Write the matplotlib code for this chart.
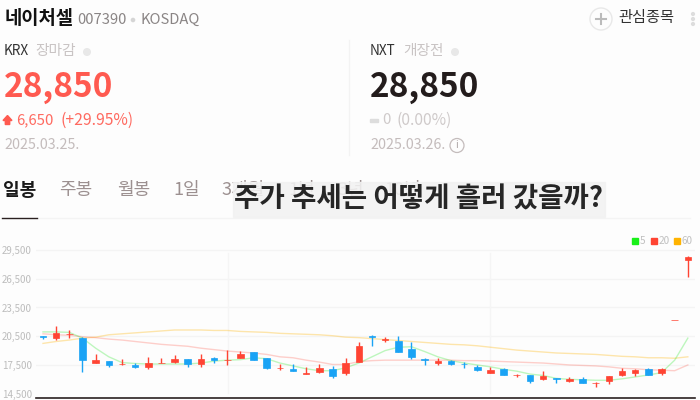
import matplotlib
matplotlib.use("Agg")
import matplotlib.pyplot as plt
from matplotlib.patches import Circle, Rectangle, Polygon

plt.rcParams['font.family'] = ['Noto Sans CJK KR', 'DejaVu Sans']

# --- data ---
opens = [20500, 20350, 20700, 20300, 17750, 17900, 17550, 17450, 17300, 17700,
         17800, 18150, 17550, 18250, 18000, 18250, 18850, 18250, 17150, 17050,
         16600, 16750, 17100, 16650, 17800, 20500, 20150, 20000, 19150, 18100,
         17700, 17900, 17600, 17300, 16650, 17100, 16450, 16450, 16000, 16150,
         15850, 16050, 15600, 15850, 16500, 16700, 17050, 16650, 22150, 28450]
highs = [20500, 21550, 21100, 20450, 18650, 17900, 18100, 17750, 18350, 18250,
         18550, 18150, 18650, 18350, 19050, 18950, 18850, 18250, 17600, 17600,
         17250, 17600, 17400, 18250, 19850, 20650, 20450, 20500, 19850, 18200,
         18250, 18000, 17800, 17500, 17300, 17200, 16550, 16450, 16850, 16150,
         16250, 16250, 15700, 16350, 17200, 17100, 17200, 17200, 22200, 28850]
lows = [20200, 20100, 20350, 16750, 17700, 17250, 17450, 17150, 17100, 17700,
        17700, 17250, 17300, 17750, 17500, 18200, 18000, 17100, 17000, 16850,
        16600, 16650, 16100, 16500, 17800, 19500, 19900, 18800, 18150, 17500,
        17500, 17500, 17200, 16850, 16650, 16400, 16200, 15650, 15950, 15600,
        15750, 15600, 15200, 15550, 16350, 16350, 16500, 16450, 22150, 26650]
closes = [20450, 20850, 20750, 18000, 18000, 17450, 17600, 17250, 17700, 17750,
          18150, 17550, 18100, 18000, 18050, 18650, 18000, 17200, 17200, 16850,
          16650, 17200, 16350, 17750, 19500, 20450, 20200, 18800, 18350, 18050,
          17900, 17600, 17550, 16950, 16950, 16400, 16500, 15850, 16300, 16050,
          16050, 15600, 15650, 16300, 16850, 17000, 16500, 17050, 22200, 28800]
ma5 = [20950, 20950, 20900, 20300, 19250, 18350, 17750, 17650, 17600, 17600,
       17600, 17600, 17700, 17900, 18000, 18050, 18250, 18150, 17700, 17400,
       17100, 16900, 16900, 17200, 17700, 18350, 19000, 19350, 19400, 18900,
       18350, 17950, 17700, 17500, 17300, 17050, 16850, 16550, 16400, 16100,
       16000, 15950, 15900, 15900, 16050, 16250, 16450, 16700, 18000, 20300]
ma20 = [20750, 20650, 20600, 20450, 20350, 20200, 20100, 19950, 19800, 19650,
        19550, 19450, 19250, 19100, 18950, 18850, 18750, 18600, 18350, 18250,
        18000, 17800, 17550, 17550, 17850, 17950, 18000, 18000, 18000, 18000,
        18000, 18000, 17950, 17950, 17900, 17850, 17800, 17750, 17700, 17600,
        17500, 17450, 17400, 17300, 17150, 17100, 17000, 16950, 16900, 17500]
ma60 = [19750, 19950, 20100, 20300, 20400, 20650, 20750, 20850, 20950, 21050,
        21150, 21150, 21150, 21100, 21100, 21000, 20950, 20900, 20800, 20750,
        20700, 20650, 20550, 20400, 20350, 20250, 20150, 20050, 19950, 19850,
        19750, 19650, 19600, 19500, 19350, 19200, 19050, 18950, 18850, 18750,
        18700, 18650, 18600, 18500, 18400, 18350, 18250, 18250, 18200, 18350]
y_ticks = [14500, 17500, 20500, 23500, 26500, 29500]
y_labels = ["14,500", "17,500", "20,500", "23,500", "26,500", "29,500"]
tabs = ["주봉", "월봉", "1일", "3개월", "1년", "3년", "10년"]
tab_x = [59, 117, 173, 221, 288, 337, 384]

BG = "#fdfdfd"
RED = "#ff4433"
BLUE = "#1aa3f5"

fig = plt.figure(figsize=(7, 4), dpi=100, facecolor=BG)

# --- page layer, in pixels ---
page = fig.add_axes([0, 0, 1, 1])
page.set_xlim(0, 700)
page.set_ylim(400, 0)
page.axis("off")

page.text(5, 19, "네이처셀", fontsize=13.5, fontweight="bold", color="#111111", va="center")
page.text(77, 19.5, "007390", fontsize=10.6, color="#8a8585", va="center")
page.add_patch(Circle((133, 20), 1.6, color="#d5d5d5"))
page.text(141, 19.5, "KOSDAQ", fontsize=10.6, color="#8a8585", va="center")

page.add_patch(Circle((601, 19), 11, fc=BG, ec="#e8e8e8", lw=1))
page.plot([596, 606], [19, 19], color="#bbbbbb", lw=1.5)
page.plot([601, 601], [14, 24], color="#bbbbbb", lw=1.5)
page.text(618, 17.5, "관심종목", fontsize=11, color="#333333", va="center")
for dot_y in [14, 19, 24]:
    page.add_patch(Circle((693, dot_y), 1.4, color="#dddddd"))

page.plot([349, 349], [40, 155], color="#f3f3f3", lw=1)

# KRX panel
page.text(4, 51, "KRX", fontsize=9.8, color="#333333", va="center")
page.text(35, 51, "장마감", fontsize=10.6, color="#c9c4c4", va="center")
page.add_patch(Circle((87, 52), 3.3, color="#e8e8e8"))
page.text(4, 87, "28,850", fontsize=24, fontweight="bold", color="#ff5a50", va="center")
page.add_patch(Polygon([(7.5, 115.5), (12, 120.5), (9.7, 120.5), (9.7, 124.5),
                        (5.3, 124.5), (5.3, 120.5), (3, 120.5)], color="#ff5a50"))
page.text(16, 120, "6,650", fontsize=10.8, color="#ff6a60", va="center")
page.text(60, 120, "(+29.95%)", fontsize=11.3, color="#ff6a60", va="center")
page.text(4, 145, "2025.03.25.", fontsize=10.3, color="#c4bcbc", va="center")

# NXT panel
page.text(370, 51, "NXT", fontsize=9.8, color="#333333", va="center")
page.text(403, 51, "개장전", fontsize=10.6, color="#c9c4c4", va="center")
page.add_patch(Circle((455, 52), 3.3, color="#e8e8e8"))
page.text(370, 87, "28,850", fontsize=24, fontweight="bold", color="#231c1c", va="center")
page.add_patch(Rectangle((370, 119), 8, 2.5, color="#dddddd"))
page.text(382, 120, "0", fontsize=10.8, color="#cfcaca", va="center")
page.text(397, 120, "(0.00%)", fontsize=11.3, color="#cfcaca", va="center")
page.text(370, 145, "2025.03.26.", fontsize=10.3, color="#c4bcbc", va="center")
page.add_patch(Circle((457, 145.5), 7, fc="none", ec="#c4bcbc", lw=0.9))
page.text(457, 145.5, "i", fontsize=7.5, color="#b0a8a8", va="center", ha="center")

# tabs
page.text(3, 190, "일봉", fontsize=13, fontweight="bold", color="#1a1a1a", va="center")
for label, x in zip(tabs, tab_x):
    page.text(x, 190, label, fontsize=13, color="#9c9090", va="center")
page.plot([37, 690], [218, 218], color="#f4f4f4", lw=1)
page.plot([2, 37], [218, 218], color="#2a2020", lw=1)

# banner over the tabs
page.add_patch(Rectangle((233, 182), 372, 35, color="#f2f2f2", alpha=0.88, zorder=5))
page.text(234, 199.5, "주가 추세는 어떻게 흘러 갔을까?", fontsize=19.9, fontweight="bold",
          color="#262626", va="center", zorder=6)

# legend
for x, colour, label in [(632, "#19f019", "5"), (651, "#ff4433", "20"), (674, "#ffb300", "60")]:
    page.add_patch(Rectangle((x, 238), 6, 6, color=colour))
    page.text(x + 8, 241, label, fontsize=7.2, color="#c0c0c0", va="center")

# --- chart layer ---
ax = fig.add_axes([36 / 700, 2 / 400, (695 - 36) / 700, 158 / 400])
ax.patch.set_alpha(0)
step = 13.16
ax.set_xlim((36 - 43) / step, (695 - 43) / step)
ax.set_ylim(14050, 30544)

for tick in y_ticks[1:]:
    ax.axhline(tick, color="#f4f4f4", lw=1, zorder=0)
for x_line in [14.05, 34]:
    ax.axvline(x_line, ymin=0.03, ymax=0.92, color="#f5f5f5", lw=1, zorder=0)

x = list(range(len(opens)))
ax.plot(x, ma60, color="#ffb300", lw=1, alpha=0.32, zorder=1)
ax.plot(x, ma20, color="#ff4433", lw=1, alpha=0.25, zorder=1)
ax.plot(x, ma5, color="#19e619", lw=1, alpha=0.28, zorder=1)

for i in x:
    colour = RED if closes[i] >= opens[i] else BLUE
    ax.vlines(i, lows[i], highs[i], color=colour, lw=1, zorder=2)
    ax.bar(i, abs(closes[i] - opens[i]), bottom=min(opens[i], closes[i]), width=0.5,
           color=colour, edgecolor=colour, linewidth=0.5, zorder=3)

for side in ["top", "left", "right"]:
    ax.spines[side].set_visible(False)
ax.spines["bottom"].set_color("#2a2020")
ax.spines["bottom"].set_linewidth(1.2)
ax.set_xticks([])
ax.set_yticks(y_ticks)
ax.set_yticklabels(y_labels, fontsize=7, color="#bdbdbd")
ax.tick_params(axis="y", length=0, pad=3)

fig.savefig("out.png", dpi=100, facecolor=BG)
